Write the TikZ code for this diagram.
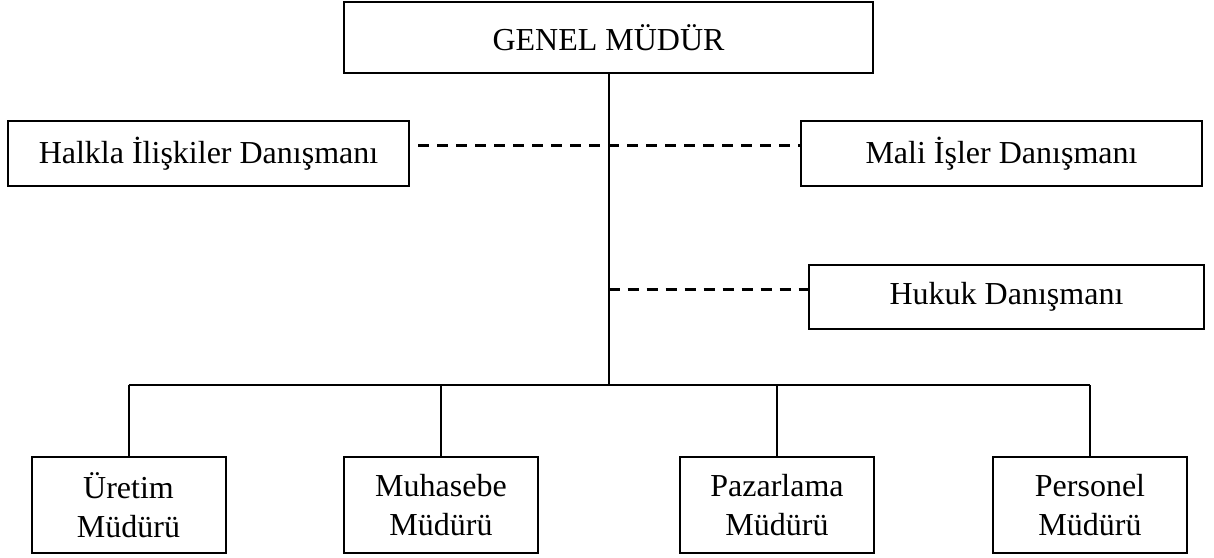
\documentclass[tikz,border=0pt]{standalone}
\usepackage{fontspec}
\setmainfont{Liberation Serif}
\usepackage{tikz}
\usetikzlibrary{positioning}
\usetikzlibrary{calc}

\begin{document}
\begin{tikzpicture}[x=0.5pt,y=-0.5pt,
	box/.style={draw, line width=1pt, inner sep=0pt, align=center,
		font=\fontsize{16}{19.5}\selectfont},
	wide/.style={box, minimum width=200.5pt, minimum height=32.5pt},
	unit/.style={box, minimum width=97pt, minimum height=48pt},
	line/.style={line width=1pt},
	dline/.style={line width=1.5pt, dash pattern=on 5.5pt off 4pt}]
	\useasboundingbox (0,0) rectangle (1214,557);

	\node[box, minimum width=264.5pt, minimum height=35.5pt] (gm) at (608.5,37.5) {GENEL MÜDÜR};
	\node[wide] (hl) at (208.5,153.5) {Halkla İlişkiler Danışmanı};
	\node[wide] (mi) at (1001.5,153.5) {Mali İşler Danışmanı};
	\node[box, minimum width=197.5pt, minimum height=32pt] (hk) at (1006.5,297) {Hukuk Danışmanı};
	\node[unit] (ur) at (128.5,505) {Üretim\\Müdürü};
	\node[unit] (mh) at (441,505) {Muhasebe\\Müdürü};
	\node[unit] (pz) at (777,505) {Pazarlama\\Müdürü};
	\node[unit] (pr) at (1090,505) {Personel\\Müdürü};

	\coordinate (j) at (609,385);
	\coordinate (hld) at ([yshift=4.25pt]hl.east);
	\coordinate (hkd) at ([yshift=4pt]hk.west);

	\draw[line] (gm.south) -- (gm.south |- j);
	\draw[line] (ur.north |- j) -- (pr.north |- j);
	\foreach \n in {ur, mh, pz, pr}
		\draw[line] (\n.north |- j) -- (\n.north);

	\draw[dline] ([xshift=4pt]hld) -- (hld -| mi.west);
	\draw[dline] (hkd -| gm.south) -- (hkd);
\end{tikzpicture}
\end{document}
